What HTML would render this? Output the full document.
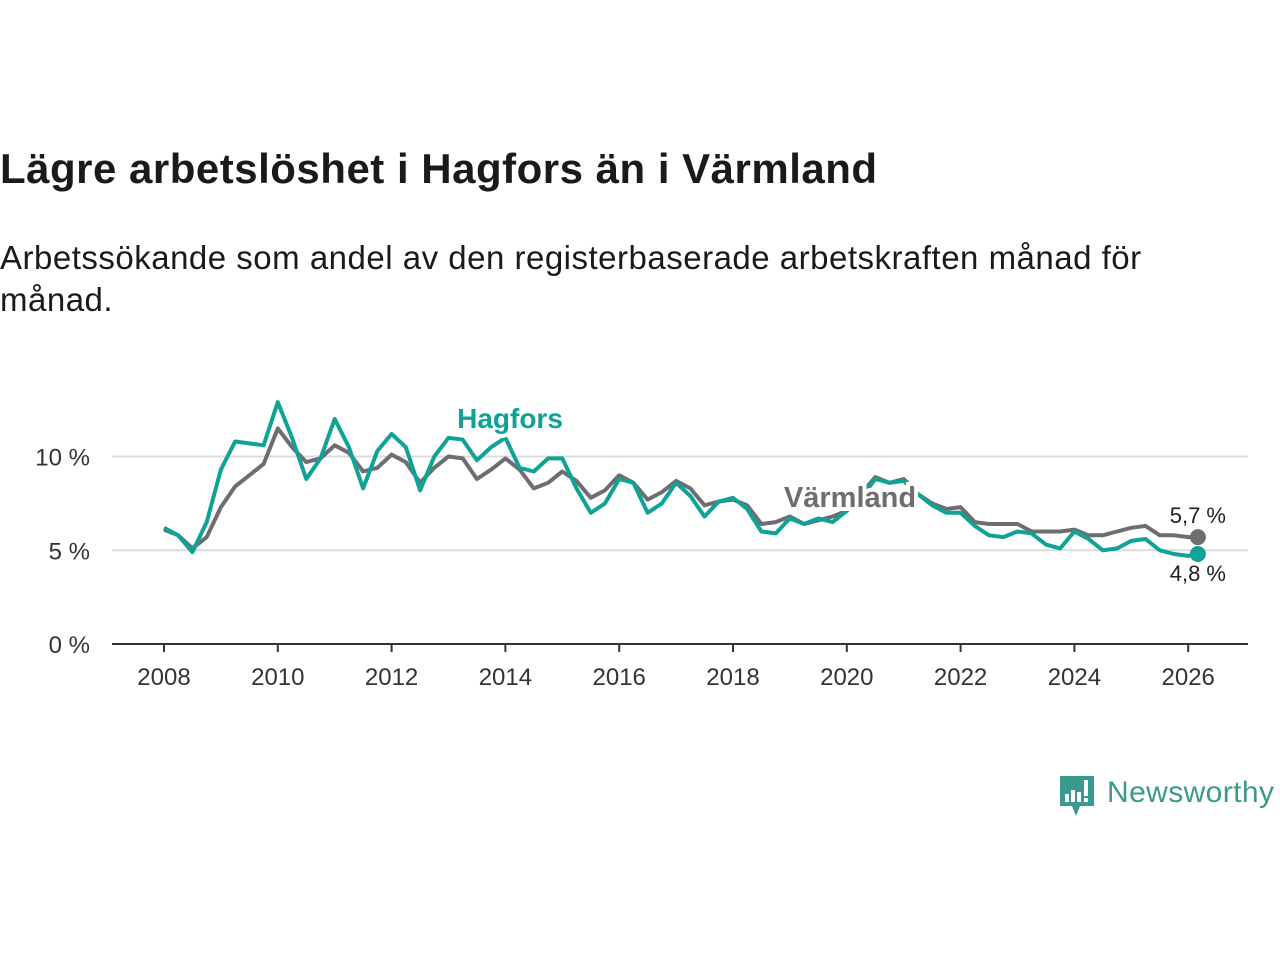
<!DOCTYPE html>
<html><head><meta charset="utf-8"><style>
body{margin:0;background:#fff;width:1280px;height:960px;overflow:hidden;font-family:"Liberation Sans","DejaVu Sans",sans-serif;}
#title{position:absolute;left:0;top:145px;font-size:42px;font-weight:bold;color:#1a1a1a;margin:0;letter-spacing:0.5px}
#sub{position:absolute;left:0;top:237px;width:1185px;font-size:33px;line-height:42px;color:#1a1a1a;margin:0;letter-spacing:0.5px}
svg{position:absolute;left:0;top:0}
</style></head><body>
<h1 id="title">Lägre arbetslöshet i Hagfors än i Värmland</h1>
<p id="sub">Arbetssökande som andel av den registerbaserade arbetskraften månad för månad.</p>
<svg id="chart" width="1280" height="960"></svg>
<script>
const dates=[2008,2008.25,2008.5,2008.75,2009,2009.25,2009.5,2009.75,2010,2010.25,2010.5,2010.75,2011,2011.25,2011.5,2011.75,2012,2012.25,2012.5,2012.75,2013,2013.25,2013.5,2013.75,2014,2014.25,2014.5,2014.75,2015,2015.25,2015.5,2015.75,2016,2016.25,2016.5,2016.75,2017,2017.25,2017.5,2017.75,2018,2018.25,2018.5,2018.75,2019,2019.25,2019.5,2019.75,2020,2020.25,2020.5,2020.75,2021,2021.25,2021.5,2021.75,2022,2022.25,2022.5,2022.75,2023,2023.25,2023.5,2023.75,2024,2024.25,2024.5,2024.75,2025,2025.25,2025.5,2025.75,2026,2026.17];
const hagfors=[6.2,5.8,4.9,6.5,9.3,10.8,10.7,10.6,12.9,11.0,8.8,9.9,12.0,10.5,8.3,10.3,11.2,10.5,8.2,10.0,11.0,10.9,9.8,10.5,11.0,9.4,9.2,9.9,9.9,8.3,7.0,7.5,8.8,8.6,7.0,7.5,8.6,7.9,6.8,7.6,7.8,7.2,6.0,5.9,6.7,6.4,6.7,6.5,7.1,7.8,8.8,8.6,8.7,8.0,7.4,7.0,7.0,6.3,5.8,5.7,6.0,5.9,5.3,5.1,6.0,5.6,5.0,5.1,5.5,5.6,5.0,4.8,4.7,4.8];
const varmland=[6.1,5.8,5.1,5.7,7.3,8.4,9.0,9.6,11.5,10.5,9.7,9.9,10.6,10.2,9.2,9.4,10.1,9.7,8.6,9.4,10.0,9.9,8.8,9.3,9.9,9.3,8.3,8.6,9.2,8.7,7.8,8.2,9.0,8.6,7.7,8.1,8.7,8.3,7.4,7.6,7.7,7.4,6.4,6.5,6.8,6.4,6.6,6.8,7.1,8.0,8.9,8.6,8.8,8.0,7.5,7.2,7.3,6.5,6.4,6.4,6.4,6.0,6.0,6.0,6.1,5.8,5.8,6.0,6.2,6.3,5.8,5.8,5.7,5.7];
const xTicks=[2008,2010,2012,2014,2016,2018,2020,2022,2024,2026];
const yTicks=[0,5,10];
const yTickLabels=["0 %","5 %","10 %"];
const endLabels=["5,7 %","4,8 %"];
const NS="http://www.w3.org/2000/svg";
const svg=document.getElementById('chart');
const X=v=>164+(v-2008)*56.9;
const Y=v=>644-v*18.75;
function el(t,a,txt){const e=document.createElementNS(NS,t);for(const k in a)e.setAttribute(k,a[k]);if(txt!==undefined)e.textContent=txt;svg.appendChild(e);return e;}
yTicks.forEach((t,i)=>{
  if(t>0){const g=el('line',{x1:112,x2:1248,y1:Y(t),y2:Y(t),stroke:'#dcdcdc','stroke-width':2});
  
  }
  const l=el('text',{x:90,y:Y(t)+9,'text-anchor':'end','font-size':24,fill:'#333'},yTickLabels[i]);
  
  
});
const ax=el('line',{x1:112,x2:1248,y1:644,y2:644,stroke:'#333','stroke-width':2});


xTicks.forEach(t=>{
  const k=el('line',{x1:X(t),x2:X(t),y1:644,y2:652,stroke:'#333','stroke-width':2});
  
  
  const l=el('text',{x:X(t),y:685,'text-anchor':'middle','font-size':24,fill:'#333'},t);
  
  
});
function line(vals,color,name){
  const d=vals.map((v,i)=>(i?'L':'M')+X(dates[i]).toFixed(1)+','+Y(v).toFixed(1)).join('');
  const p=el('path',{d:d,fill:'none',stroke:color,'stroke-width':4,'stroke-linejoin':'round'});
  
  
  const n=dates.length-1;
  const c=el('circle',{cx:X(dates[n]),cy:Y(vals[n]),r:8,fill:color});
  
  
}
line(varmland,'#6d6d72','varmland-line');
line(hagfors,'#0fa396','hagfors-line');
const n=dates.length-1;
const e1=el('text',{x:X(dates[n]),y:Y(varmland[n])-14,'text-anchor':'middle','font-size':22,fill:'#222'},endLabels[0]);


const e2=el('text',{x:X(dates[n]),y:Y(hagfors[n])+27,'text-anchor':'middle','font-size':22,fill:'#222'},endLabels[1]);


const h=el('text',{x:510,y:428,'text-anchor':'middle','font-size':28,'font-weight':'bold',fill:'#0fa396',stroke:'#fff','stroke-width':8,'paint-order':'stroke'},'Hagfors');


const v=el('text',{x:850,y:507,'text-anchor':'middle','font-size':29,'font-weight':'bold',fill:'#6d6d72',stroke:'#fff','stroke-width':8,'paint-order':'stroke'},'Värmland');


</script>
<svg width="1280" height="960" style="pointer-events:none">
<path d="M1060 776 h34 v30 h-14 l-4 10 l-4 -10 h-12 z" fill="#3a9a8e"/>
<rect x="1065" y="794" width="4" height="8" fill="#fff"/><rect x="1071" y="790" width="4" height="12" fill="#fff"/><rect x="1077" y="792" width="4" height="10" fill="#fff"/><rect x="1084" y="780" width="4" height="16" fill="#fff"/><rect x="1084" y="798" width="4" height="4" fill="#fff"/>
<text x="1107" y="802" font-size="30" fill="#3a9a8e" font-family="Liberation Sans, sans-serif" letter-spacing="0.4">Newsworthy</text>
</svg>
</body></html>
